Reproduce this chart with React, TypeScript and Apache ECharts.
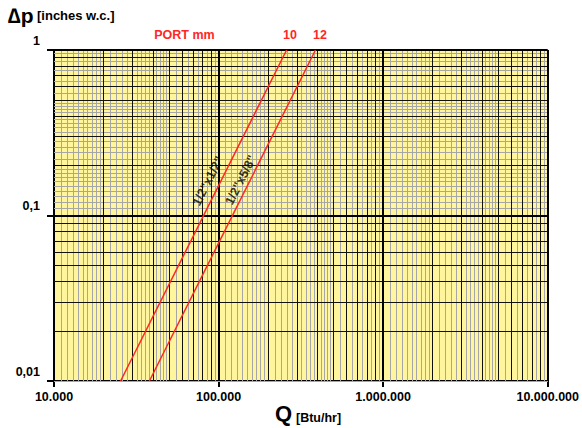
import React, { useEffect, useRef } from "react";
import * as echarts from "echarts";

// ---- data ----
const xTickLabels = ["10.000", "100.000", "1.000.000", "10.000.000"];
const yTickLabels = ["0,01", "0,1", "1"];
const xDecades = [10000, 100000, 1000000];
const yDecades = [0.01, 0.1];
const port10: [number, number][] = [
  [25400, 0.01],
  [259000, 1],
];
const port12: [number, number][] = [
  [38000, 0.01],
  [388000, 1],
];
const lineNames = ["10", "12"];
const lineLabels = ['1/2"x1/2"', '1/2"x5/8"'];
const lineLabelPos: [number, number][] = [
  [86200, 0.1616],
  [136400, 0.1638],
];
const blackSteps = [2, 3, 4, 5, 6, 7, 8, 9];
const graySteps = [1.1, 1.2, 1.3, 1.4, 1.5, 1.6, 1.7, 1.8, 1.9, 2.2, 2.4, 2.6, 2.8, 3.2, 3.4, 3.6, 3.8, 4.2, 4.4, 4.6, 4.8, 5.5, 6.5, 7.5, 8.5, 9.5];

const FONT = '"Liberation Sans", Arial, sans-serif';
const RED = "#ff2626";

function gridSeries(name: string, steps: number[], color: string, width: number, z: number) {
  const data: any[] = [];
  xDecades.forEach((d) => steps.forEach((s) => data.push({ xAxis: d * s })));
  yDecades.forEach((d) => steps.forEach((s) => data.push({ yAxis: d * s })));
  return {
    name,
    type: "line",
    data: [[10000, 0.01]],
    showSymbol: false,
    silent: true,
    z,
    lineStyle: { opacity: 0 },
    markLine: {
      silent: true,
      symbol: ["none", "none"],
      label: { show: false },
      lineStyle: { color, width, type: "solid" },
      emphasis: { disabled: true },
      z,
      data,
    },
  };
}

export default function App() {
  const ref = useRef<HTMLDivElement>(null);
  useEffect(() => {
    if (!ref.current) return;
    const chart = echarts.init(ref.current, undefined, { renderer: "svg" });
    const majorData: any[] = [
      { xAxis: 100000 },
      { xAxis: 1000000 },
      { xAxis: 10000000 },
      { yAxis: 0.1 },
      { yAxis: 1 },
    ];
    chart.setOption({
      animation: false,
      grid: {
        left: 54,
        right: 31,
        top: 50,
        bottom: 47,
        show: true,
        backgroundColor: "#FFF59C",
        borderWidth: 0,
      },
      xAxis: {
        type: "log",
        logBase: 10,
        min: 10000,
        max: 10000000,
        axisLine: { show: true, onZero: false, lineStyle: { color: "#000", width: 2 } },
        axisTick: { show: true, length: 6, lineStyle: { color: "#000", width: 2 } },
        axisLabel: {
          color: "#000",
          fontWeight: "bold",
          fontSize: 12.5,
          fontFamily: FONT,
          margin: 9,
          showMinLabel: true,
          showMaxLabel: true,
          formatter: (v: number) => xTickLabels[Math.round(Math.log10(v)) - 4] ?? "",
        },
        splitLine: { show: false },
      },
      yAxis: {
        type: "log",
        logBase: 10,
        min: 0.01,
        max: 1,
        axisLine: { show: true, onZero: false, lineStyle: { color: "#000", width: 2 } },
        axisTick: { show: true, length: 7, lineStyle: { color: "#000", width: 2 } },
        axisLabel: {
          color: "#000",
          fontWeight: "bold",
          fontSize: 12.5,
          fontFamily: FONT,
          margin: 14,
          verticalAlign: "bottom",
          padding: [0, 0, 3, 0],
          formatter: (v: number) => yTickLabels[Math.round(Math.log10(v)) + 2] ?? "",
        },
        splitLine: { show: false },
      },
      series: [
        gridSeries("gray", graySteps, "#a6a6a6", 1, 1),
        gridSeries("black", blackSteps, "#111", 1, 2),
        {
          name: "major",
          type: "line",
          data: [[10000, 0.01]],
          showSymbol: false,
          silent: true,
          z: 3,
          lineStyle: { opacity: 0 },
          markLine: {
            silent: true,
            symbol: ["none", "none"],
            label: { show: false },
            lineStyle: { color: "#000", width: 2, type: "solid" },
            z: 3,
            data: majorData,
          },
        },
        {
          name: lineNames[0],
          type: "line",
          data: port10,
          showSymbol: false,
          z: 5,
          lineStyle: { color: RED, width: 1.5 },
        },
        {
          name: lineNames[1],
          type: "line",
          data: port12,
          showSymbol: false,
          z: 5,
          lineStyle: { color: RED, width: 1.5 },
        },
        {
          name: "labels",
          type: "scatter",
          z: 6,
          symbol: "circle",
          symbolSize: 1,
          itemStyle: { color: "rgba(0,0,0,0)" },
          silent: true,
          data: lineLabelPos.map((p, i) => ({
            value: p,
            label: {
              show: true,
              position: "inside",
              rotate: 63,
              formatter: lineLabels[i],
              color: "#000",
              fontWeight: "bold",
              fontSize: 12.5,
              fontFamily: FONT,
            },
          })),
        },
      ],
      graphic: [
        {
          type: "text",
          left: 8,
          top: 5,
          style: {
            text: "{a|∆p} {b|[inches w.c.]}",
            fill: "#000",
            fontFamily: FONT,
            rich: {
              a: { fontSize: 21, fontWeight: "bold", fontFamily: FONT, fill: "#000" },
              b: { fontSize: 13, fontWeight: "bold", fontFamily: FONT, fill: "#000" },
            },
          },
        },
        {
          type: "text",
          x: 184.5,
          y: 35,
          style: {
            text: "PORT mm",
            fill: RED,
            fontSize: 12.5,
            fontWeight: "bold",
            fontFamily: FONT,
            align: "center",
            verticalAlign: "middle",
          },
        },
        {
          type: "text",
          x: 290,
          y: 35,
          style: {
            text: lineNames[0],
            fill: RED,
            fontSize: 12.5,
            fontWeight: "bold",
            fontFamily: FONT,
            align: "center",
            verticalAlign: "middle",
          },
        },
        {
          type: "text",
          x: 320,
          y: 35,
          style: {
            text: lineNames[1],
            fill: RED,
            fontSize: 12.5,
            fontWeight: "bold",
            fontFamily: FONT,
            align: "center",
            verticalAlign: "middle",
          },
        },
        {
          type: "text",
          x: 275,
          y: 402,
          style: {
            text: "Q",
            fill: "#000",
            fontSize: 22,
            fontWeight: "bold",
            fontFamily: FONT,
          },
        },
        {
          type: "text",
          x: 296,
          y: 411,
          style: {
            text: "[Btu/hr]",
            fill: "#000",
            fontSize: 12.5,
            fontWeight: "bold",
            fontFamily: FONT,
          },
        },
      ],
    });
    return () => chart.dispose();
  }, []);
  return (
    <div
      ref={ref}
      style={{ position: "fixed", left: 0, top: 0, width: 582, height: 428, background: "#fff" }}
    />
  );
}
